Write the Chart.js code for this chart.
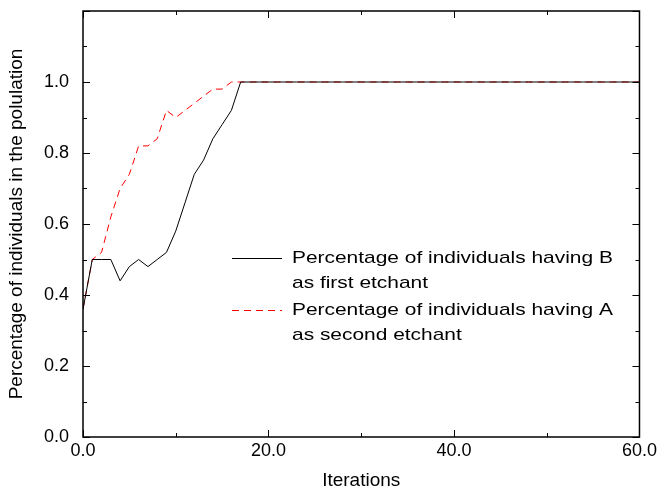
<!DOCTYPE html>
<html>
<head>
<meta charset="utf-8">
<script src="https://cdn.jsdelivr.net/npm/chart.js@4.4.0/dist/chart.umd.min.js"></script>
<style>
  body { margin: 0; background: #fff; }
</style>
</head>
<body>
<canvas id="myChart" width="660" height="491"></canvas>
<script>
// iterations 0..60
var iterations = [];
for (var i = 0; i <= 60; i++) iterations.push(i);

// 0..17, then flat at 1.0
var firstEtchantB = [0.36, 0.50, 0.50, 0.50, 0.44, 0.48, 0.50, 0.48, 0.50, 0.52,
                     0.58, 0.66, 0.74, 0.78, 0.84, 0.88, 0.92, 1.0];
var secondEtchantA = [0.36, 0.50, 0.52, 0.62, 0.70, 0.74, 0.82, 0.82, 0.84, 0.92,
                      0.90, 0.92, 0.94, 0.96, 0.98, 0.98, 1.0, 1.0];
while (firstEtchantB.length < iterations.length) firstEtchantB.push(1.0);
while (secondEtchantA.length < iterations.length) secondEtchantA.push(1.0);

var legendLines = [
    ['Percentage of individuals having B', 'as first etchant'],
    ['Percentage of individuals having A', 'as second etchant']
];
var yMajorTicks = [0, 0.2, 0.4, 0.6, 0.8, 1.0];
var xMajorTicks = [0, 20, 40, 60];

var fontFamily = '"Liberation Sans", Arial, Helvetica, sans-serif';

function toPoints(ys) {
    return ys.map(function(v, i) { return { x: iterations[i], y: v }; });
}

// box, inward ticks and the two-line legend
var framePlugin = {
    id: 'frame',
    afterDraw: function(chart) {
        var c = chart.ctx;
        var a = chart.chartArea;
        var xs = chart.scales.x, ys = chart.scales.y;
        c.save();
        c.strokeStyle = '#000';
        c.lineWidth = 1.5;
        c.strokeRect(a.left, a.top, a.right - a.left, a.bottom - a.top);
        c.lineWidth = 1;
        c.beginPath();
        for (var v = 0; v <= 12; v++) {
            var py = Math.round(ys.getPixelForValue(v / 10)) + 0.5;
            var len = (v % 2 === 0) ? 7 : 4;
            c.moveTo(a.left, py); c.lineTo(a.left + len, py);
            c.moveTo(a.right, py); c.lineTo(a.right - len, py);
        }
        for (var t = 0; t <= 60; t += 10) {
            var px = Math.round(xs.getPixelForValue(t)) + 0.5;
            var l2 = (t % 20 === 0) ? 7 : 4;
            c.moveTo(px, a.bottom); c.lineTo(px, a.bottom - l2);
            c.moveTo(px, a.top); c.lineTo(px, a.top + l2);
        }
        c.stroke();

        // legend (text stretched a little wider, like the original)
        c.font = '17px ' + fontFamily;
        c.textBaseline = 'middle';
        c.fillStyle = '#000';
        var rowY = [258, 310];
        chart.data.datasets.forEach(function(ds, k) {
            c.strokeStyle = ds.borderColor;
            c.lineWidth = 1;
            c.setLineDash(ds.borderDash || []);
            c.beginPath();
            c.moveTo(232, rowY[k] + 0.5);
            c.lineTo(282, rowY[k] + 0.5);
            c.stroke();
            c.setLineDash([]);
            legendLines[k].forEach(function(txt, j) {
                c.save();
                c.translate(292, rowY[k] + j * 25);
                c.scale(1.23, 1);
                c.fillText(txt, 0, 0);
                c.restore();
            });
        });
        c.restore();
    }
};

var ctx = document.getElementById('myChart').getContext('2d');
var myChart = new Chart(ctx, {
    type: 'line',
    data: {
        datasets: [
            {
                label: legendLines[0].join(' '),
                data: toPoints(firstEtchantB),
                borderColor: '#000000',
                borderWidth: 1,
                pointRadius: 0,
                tension: 0
            },
            {
                label: legendLines[1].join(' '),
                data: toPoints(secondEtchantA),
                borderColor: '#ff0000',
                borderWidth: 1,
                borderDash: [7, 5],
                pointRadius: 0,
                tension: 0
            }
        ]
    },
    options: {
        responsive: false,
        animation: false,
        layout: { padding: { top: 11, right: 20, left: 0, bottom: 0 } },
        plugins: {
            legend: { display: false },
            tooltip: { enabled: false }
        },
        scales: {
            x: {
                type: 'linear',
                min: 0,
                max: 60,
                afterFit: function(s) { s.height = 54; },
                afterBuildTicks: function(s) {
                    s.ticks = xMajorTicks.map(function(v) { return { value: v }; });
                },
                grid: { display: false, drawTicks: false },
                border: { display: false },
                ticks: {
                    padding: 3,
                    color: '#000',
                    font: { family: fontFamily, size: 18 },
                    maxRotation: 0,
                    callback: function(v) { return Number(v).toFixed(1); }
                },
                title: {
                    display: true,
                    text: 'Iterations',
                    color: '#000',
                    font: { family: fontFamily, size: 19 },
                    padding: { top: 0, bottom: -1 }
                }
            },
            y: {
                min: 0,
                max: 1.2,
                afterFit: function(s) {
                    s.width = 83;
                    s.paddingTop = 0;
                    s.paddingBottom = 0;
                },
                afterBuildTicks: function(s) {
                    s.ticks = yMajorTicks.map(function(v) { return { value: v }; });
                },
                grid: { display: false, drawTicks: false },
                border: { display: false },
                ticks: {
                    padding: 14,
                    color: '#000',
                    font: { family: fontFamily, size: 18 },
                    callback: function(v) { return Number(v).toFixed(1); }
                },
                title: {
                    display: true,
                    text: 'Percentage of individuals in the polulation',
                    color: '#000',
                    font: { family: fontFamily, size: 19 },
                    padding: { top: 5, bottom: 0 }
                }
            }
        }
    },
    plugins: [framePlugin]
});
</script>
</body>
</html>
